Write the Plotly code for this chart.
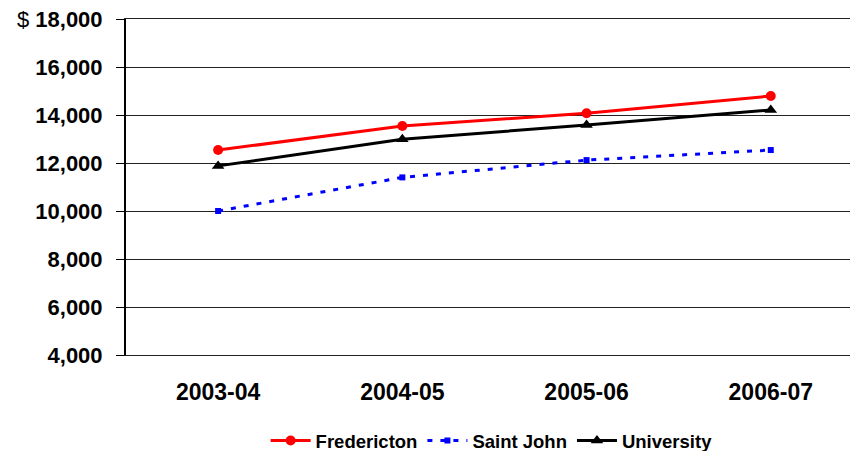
import plotly.graph_objects as go

categories = ["2003-04", "2004-05", "2005-06", "2006-07"]
fredericton = [12540, 13540, 14070, 14790]
saint_john = [10000, 11400, 12120, 12540]
university = [11880, 12990, 13580, 14210]

tick_vals = [4000, 6000, 8000, 10000, 12000, 14000, 16000, 18000]
tick_text = ["<b>4,000</b>", "<b>6,000</b>", "<b>8,000</b>", "<b>10,000</b>",
             "<b>12,000</b>", "<b>14,000</b>", "<b>16,000</b>", "$ <b>18,000</b>"]

fig = go.Figure()
fig.add_trace(go.Scatter(x=categories, y=fredericton, name="Fredericton", mode="lines+markers",
                         line=dict(color="#FF0000", width=3),
                         marker=dict(symbol="circle", size=10, color="#FF0000")))
fig.add_trace(go.Scatter(x=categories, y=saint_john, name="Saint John", mode="lines+markers",
                         line=dict(color="#0000FF", width=3, dash="5px,8px"),
                         marker=dict(symbol="square", size=6, color="#0000FF")))
fig.add_trace(go.Scatter(x=categories, y=university, name="University", mode="lines+markers",
                         line=dict(color="#000000", width=3),
                         marker=dict(symbol="triangle-up", size=11, color="#000000")))

fig.update_layout(
    width=851, height=451,
    margin=dict(l=126, r=1, t=19, b=96, autoexpand=False),
    paper_bgcolor="white", plot_bgcolor="white",
    font=dict(family="Liberation Sans, Arial, sans-serif", color="black"),
    showlegend=True,
    legend=dict(orientation="h", x=0.505, xanchor="center", y=-0.256, yanchor="middle",
                font=dict(size=18.5, family="Liberation Sans, Arial, sans-serif", weight="bold"),
                itemwidth=40, tracegroupgap=0),
)
fig.update_xaxes(type="category", range=[-0.5, 3.43], showgrid=False,
                 showline=True, mirror=True, linecolor="#222222", linewidth=1,
                 ticks="", zeroline=False, automargin=False,
                 tickfont=dict(size=23, weight="bold"), ticklabelstandoff=16)
fig.update_yaxes(range=[4000, 18000], tickvals=tick_vals, ticktext=tick_text,
                 showgrid=True, gridcolor="#222222", gridwidth=1,
                 showline=True, linecolor="#000000", linewidth=2,
                 ticks="outside", ticklen=8, tickcolor="#000000", tickwidth=1,
                 zeroline=False, automargin=False,
                 tickfont=dict(size=22), ticklabelstandoff=9)

fig.write_html("out.html", config={"displayModeBar": False},
               post_script="document.body.style.margin='0';")
